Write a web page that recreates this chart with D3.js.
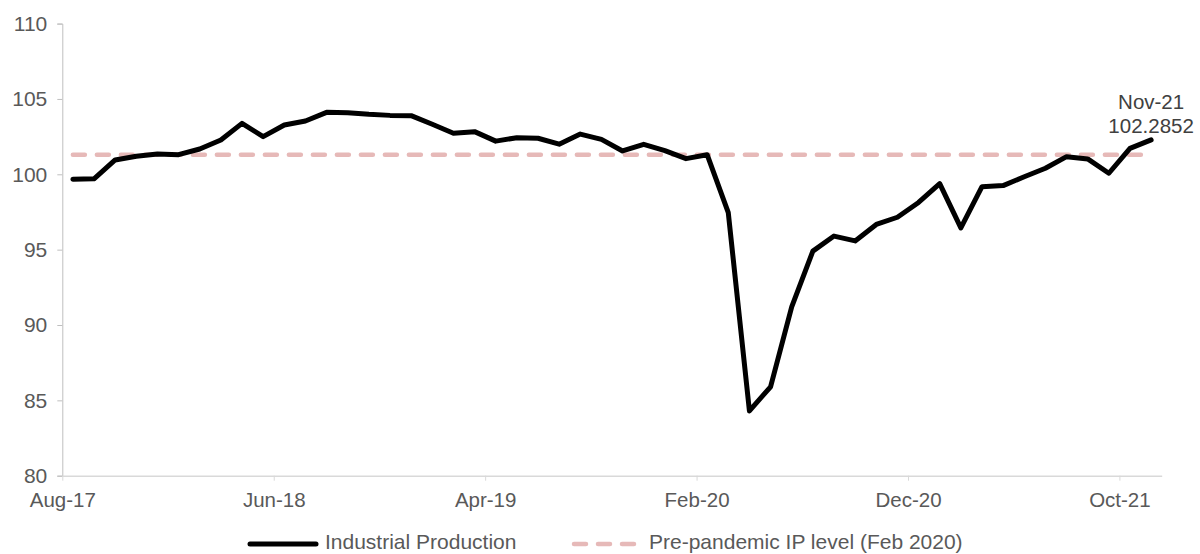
<!DOCTYPE html>
<html>
<head>
<meta charset="utf-8">
<script src="https://d3js.org/d3.v7.min.js"></script>
<style>
  body { margin: 0; background: #fff; }
  text { font-family: "Liberation Sans", Arial, sans-serif; }
</style>
</head>
<body>
<svg id="chart" width="1200" height="554"></svg>
<script>
// months Aug-17 .. Nov-21
var months = ["Aug-17","Sep-17","Oct-17","Nov-17","Dec-17",
  "Jan-18","Feb-18","Mar-18","Apr-18","May-18","Jun-18","Jul-18","Aug-18","Sep-18","Oct-18","Nov-18","Dec-18",
  "Jan-19","Feb-19","Mar-19","Apr-19","May-19","Jun-19","Jul-19","Aug-19","Sep-19","Oct-19","Nov-19","Dec-19",
  "Jan-20","Feb-20","Mar-20","Apr-20","May-20","Jun-20","Jul-20","Aug-20","Sep-20","Oct-20","Nov-20","Dec-20",
  "Jan-21","Feb-21","Mar-21","Apr-21","May-21","Jun-21","Jul-21","Aug-21","Sep-21","Oct-21","Nov-21"];

var production = [99.67, 99.7, 100.95, 101.2, 101.35, 101.3, 101.68, 102.28, 103.38, 102.5,
  103.27, 103.54, 104.11, 104.09, 103.98, 103.91, 103.89, 103.32, 102.72, 102.83,
  102.2, 102.43, 102.39, 102.0, 102.67, 102.32, 101.55, 101.99, 101.57, 101.04,
  101.3, 97.45, 84.3, 85.9, 91.21, 94.9, 95.9, 95.58, 96.67, 97.15,
  98.13, 99.38, 96.44, 99.18, 99.25, 99.84, 100.4, 101.17, 101.02, 100.07,
  101.72, 102.2852];

var prePandemic = 101.3;

var yTicks = [80, 85, 90, 95, 100, 105, 110];
var xTickMonths = ["Aug-17", "Jun-18", "Apr-19", "Feb-20", "Dec-20", "Oct-21"];

var svg = d3.select("#chart");

var x = d3.scaleLinear()
  .domain([-0.5, months.length - 0.5])
  .range([62.3, 1161.7]);

var y = d3.scaleLinear()
  .domain([80, 110])
  .range([475.7, 23.6]);

// y axis
var yAxis = svg.append("g")
  .attr("transform", "translate(" + x(-0.5) + ",0)")
  .call(d3.axisLeft(y).tickValues(yTicks).tickSize(5).tickPadding(10));
yAxis.selectAll("path, line").attr("stroke", "#bfbfbf");
yAxis.selectAll("text").attr("fill", "#595959").style("font-size", "21px");

// x axis, ticks on the left edge of each labelled month
var xAxis = svg.append("g")
  .attr("transform", "translate(0," + y(80) + ")")
  .call(d3.axisBottom(x)
    .tickValues(xTickMonths.map(function(m) { return months.indexOf(m) - 0.5; }))
    .tickFormat(function(v) { return months[v + 0.5]; })
    .tickSize(5).tickPadding(12)
    .tickSizeOuter(0));
xAxis.selectAll("path, line").attr("stroke", "#d9d9d9");
xAxis.select(".domain").attr("stroke-width", 1.5);
xAxis.selectAll("text").attr("fill", "#595959").style("font-size", "20.5px");

// pre-pandemic level
svg.append("line")
  .attr("x1", x(0)).attr("x2", x(months.length - 1) - 8)
  .attr("y1", y(prePandemic)).attr("y2", y(prePandemic))
  .attr("stroke", "#e6b9b8")
  .attr("stroke-width", 4.5)
  .attr("stroke-linecap", "round")
  .attr("stroke-dasharray", "12,12");

// industrial production
var line = d3.line()
  .x(function(d, i) { return x(i); })
  .y(function(d) { return y(d); });

svg.append("path")
  .datum(production)
  .attr("d", line)
  .attr("fill", "none")
  .attr("stroke", "#000")
  .attr("stroke-width", 5)
  .attr("stroke-linejoin", "round")
  .attr("stroke-linecap", "round");

// last point label
var last = production.length - 1;
var lbl = svg.append("text")
  .attr("text-anchor", "middle")
  .attr("fill", "#404040")
  .style("font-size", "20.5px");
lbl.append("tspan").attr("x", x(last)).attr("y", 109).text(months[last]);
lbl.append("tspan").attr("x", x(last)).attr("y", 133).text(production[last]);

// legend
var legend = svg.append("g");
legend.append("line")
  .attr("x1", 250).attr("x2", 316).attr("y1", 544).attr("y2", 544)
  .attr("stroke", "#000").attr("stroke-width", 5).attr("stroke-linecap", "round");
legend.append("text")
  .attr("x", 325).attr("y", 549)
  .attr("fill", "#595959").style("font-size", "21px")
  .text("Industrial Production");
legend.append("line")
  .attr("x1", 574).attr("x2", 640).attr("y1", 544).attr("y2", 544)
  .attr("stroke", "#e6b9b8").attr("stroke-width", 4.5)
  .attr("stroke-linecap", "round").attr("stroke-dasharray", "12,12");
legend.append("text")
  .attr("x", 649).attr("y", 549)
  .attr("fill", "#595959").style("font-size", "21px")
  .text("Pre-pandemic IP level (Feb 2020)");
</script>
</body>
</html>
